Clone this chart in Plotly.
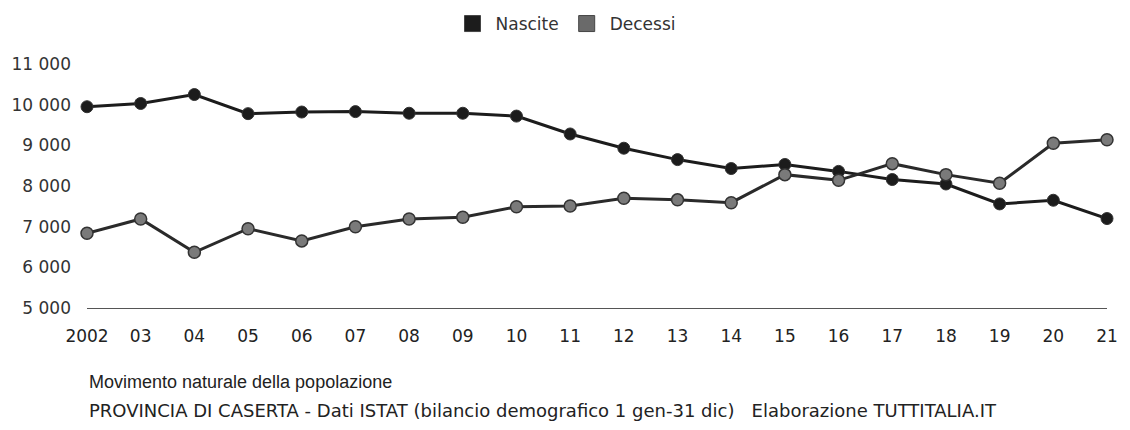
import plotly.graph_objects as go

years = list(range(2002, 2022))
tick_labels = ["2002"] + [f"{y % 100:02d}" for y in range(2003, 2022)]
nascite = [9950, 10030, 10250, 9780, 9820, 9830, 9790, 9790, 9720, 9280,
           8930, 8650, 8430, 8530, 8360, 8160, 8050, 7560, 7650, 7200]
decessi = [6840, 7190, 6370, 6950, 6650, 7000, 7190, 7230, 7490, 7510,
           7700, 7660, 7590, 8280, 8140, 8550, 8280, 8070, 9050, 9140]
y_ticks = [5000, 6000, 7000, 8000, 9000, 10000, 11000]

font = "Liberation Sans, Arial, sans-serif"
dfont = "DejaVu Sans, sans-serif"
c_nas = "#1c1c1c"
c_dec = "#7a7a7a"

fig = go.Figure()
fig.add_trace(go.Scatter(
    x=years, y=nascite, name="Nascite", mode="lines+markers", showlegend=False,
    line=dict(color=c_nas, width=3),
    marker=dict(size=12, color=c_nas, line=dict(color="#333", width=1)),
    cliponaxis=False,
))
fig.add_trace(go.Scatter(
    x=years, y=decessi, name="Decessi", mode="lines+markers", showlegend=False,
    line=dict(color="#2a2a2a", width=3),
    marker=dict(size=12, color=c_dec, line=dict(color="#333", width=1.5)),
    cliponaxis=False,
))
for name, col in [("Nascite", c_nas), ("Decessi", "#6a6a6a")]:
    fig.add_trace(go.Scatter(x=[None], y=[None], name=name, mode="markers",
                             marker=dict(symbol="square", size=18, color=col,
                                         line=dict(color="#444", width=1))))

fig.update_layout(
    width=1130, height=430,
    margin=dict(l=87, r=12, t=56, b=122),
    paper_bgcolor="white", plot_bgcolor="white",
    separators=". ",
    font=dict(family=font, color="#222", size=14),
    showlegend=True,
    legend=dict(orientation="h", xref="container", x=0.5, xanchor="center",
                yref="container", y=1 - 24 / 430, yanchor="middle",
                font=dict(family=dfont, size=17, color="#333"), itemwidth=36,
                itemclick=False, itemdoubleclick=False),
    xaxis=dict(range=[2002, 2021], tickmode="array", tickvals=years, ticktext=tick_labels,
               showgrid=False, zeroline=False, showline=True, linecolor="#555", linewidth=1,
               ticks="", tickfont=dict(family=dfont, size=17, color="#222"),
               ticklabelstandoff=13),
    yaxis=dict(range=[5000, 11000], tickmode="array", tickvals=y_ticks, tickformat=",d",
               showgrid=False, zeroline=False, showline=False, ticks="",
               tickfont=dict(family=dfont, size=17, color="#333"), ticklabelstandoff=15),
)

fig.add_annotation(text="Movimento naturale della popolazione", xref="paper", yref="paper",
                   x=0, xanchor="left", y=-(384 - 308) / 252, yanchor="middle", showarrow=False,
                   font=dict(family=font, size=18, color="#222"))
fig.add_annotation(text="PROVINCIA DI CASERTA - Dati ISTAT (bilancio demografico 1 gen-31 dic)&nbsp;&nbsp;&nbsp;Elaborazione TUTTITALIA.IT",
                   xref="paper", yref="paper", x=0, xanchor="left", y=-(414 - 308) / 252,
                   yanchor="middle", showarrow=False,
                   font=dict(family=dfont, size=18, color="#222"))

fig.write_html("out.html", config={"displayModeBar": False},
               post_script="document.body.style.margin='0';document.body.style.overflow='hidden';")
